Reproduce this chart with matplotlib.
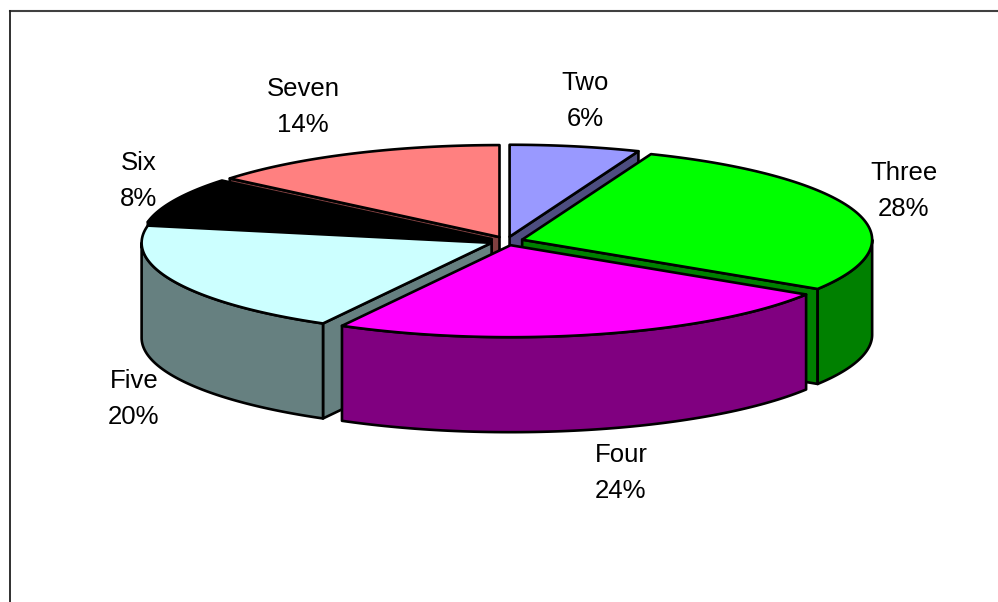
import numpy as np
import matplotlib

matplotlib.use("Agg")
import matplotlib.pyplot as plt
from matplotlib.patches import Polygon

labels = ["Two", "Three", "Four", "Five", "Six", "Seven"]
shares = [6, 28, 24, 20, 8, 14]
top_colors = ["#9999ff", "#00ff00", "#ff00ff", "#ccffff", "#000000", "#ff8080"]
side_colors = ["#4d4d80", "#008000", "#800080", "#668080", "#000000", "#804040"]
label_xy = [(585, 101), (904, 191), (621, 473), (134, 399), (139, 181), (303, 107)]

# pie geometry in pixels
W, H = 998, 602
CX, CY = 506.5, 241
A, B = 350, 92
DEPTH = 95
EXPLODE = 0.047


def point(t, r=1.0):
    # t is clockwise from 12 o'clock
    return np.array([A * r * np.sin(t), -B * r * np.cos(t)])


def arc(t0, t1, n=80):
    ts = np.linspace(t0, t1, n)
    return np.column_stack([A * np.sin(ts), -B * np.cos(ts)])


def add_poly(ax, pts, color, z):
    ax.add_patch(Polygon(pts, closed=True, facecolor=color, edgecolor="black", linewidth=1.9, joinstyle="round", zorder=z))


def draw_slice(ax, t0, t1, top, side, z):
    mid = (t0 + t1) / 2
    apex = np.array([CX, CY]) + point(mid, EXPLODE)
    down = np.array([0, DEPTH])
    edge = apex + arc(t0, t1)

    # cut walls, only the ones facing the viewer
    for t, visible in ((t0, np.sin(t0) < 0), (t1, np.sin(t1) > 0)):
        if visible:
            rim = apex + point(t)
            add_poly(ax, [apex, rim, rim + down, apex + down], side, z)

    # outer wall on the front half of the ellipse
    front = np.linspace(max(t0, np.pi / 2), min(t1, 3 * np.pi / 2), 80)
    if front[-1] > front[0]:
        rim = apex + arc(front[0], front[-1])
        add_poly(ax, np.vstack([rim, (rim + down)[::-1]]), side, z + 0.1)

    add_poly(ax, np.vstack([apex, edge]), top, z + 0.2)


fig = plt.figure(figsize=(W / 100, H / 100), dpi=100)
ax = fig.add_axes([0, 0, 1, 1])
ax.set_xlim(0, W)
ax.set_ylim(H, 0)
ax.axis("off")

# only the top and left of the chart border are in the picture
ax.plot([10, W + 2], [11, 11], color="#404040", linewidth=1.5, clip_on=False)
ax.plot([10, 10], [11, H + 2], color="#202020", linewidth=1.3, clip_on=False)

edges = np.cumsum([0] + shares) / sum(shares) * 2 * np.pi
# back slices first, then towards the viewer
order = [5, 4, 0, 1, 3, 2]
for z, i in enumerate(order):
    draw_slice(ax, edges[i], edges[i + 1], top_colors[i], side_colors[i], z + 1)

for label, share, (x, y) in zip(labels, shares, label_xy):
    ax.text(x, y, f"{label}\n{share}%", ha="center", va="center", fontsize=18.5,
            family=["Liberation Sans", "DejaVu Sans"], linespacing=1.6, zorder=20)

fig.savefig("out.png", dpi=100)
